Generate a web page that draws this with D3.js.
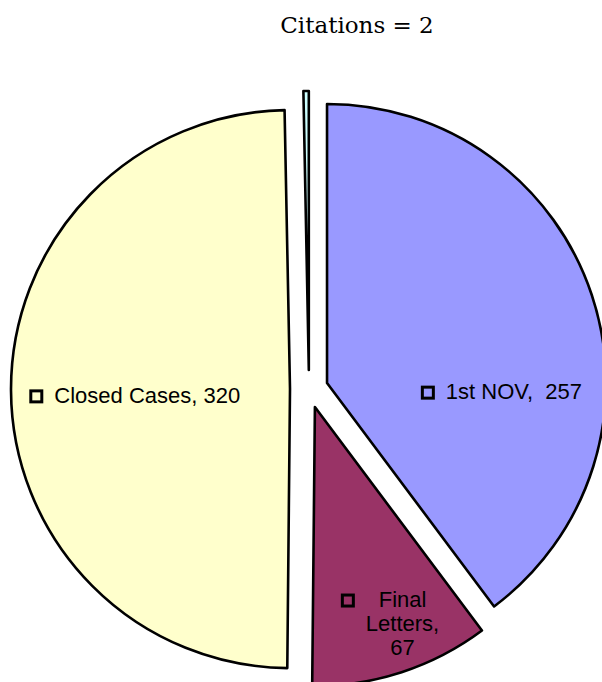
<!DOCTYPE html>
<html>
<head>
<meta charset="utf-8">
<script src="https://cdn.jsdelivr.net/npm/d3@7"></script>
<style>
	body { margin: 0; background: #fff; }
	svg { display: block; }
</style>
</head>
<body>
<div id="chart"></div>
<script>
// slices, clockwise from 12 o'clock
const categories = ["1st NOV", "Final Letters", "Closed Cases", "Citations"]
const values = [257, 67, 320, 2]
const labelLines = [["1st NOV,  257"], ["Final", "Letters,", "67"], ["Closed Cases, 320"], []]
const colors = ["#9999ff", "#993366", "#ffffcc", "#ccffff"]
const title = "Citations = 2"

// label placement, polar from each slice's tip: angle in degrees, distance as share of radius
const labelAngle = [93, 160.9, 267.5, 0]
const labelDist = [0.626, 0.823, 0.557, 0]

const width = 602, height = 682
const cx = 309, cy = 389
const radius = 279
const explode = 19

const svg = d3.select("#chart")
	.append("svg")
	.attr("width", width)
	.attr("height", height)

svg.append("text")
	.attr("x", 357)
	.attr("y", 33)
	.attr("text-anchor", "middle")
	.style("font-family", "'DejaVu Serif', serif")
	.style("font-size", "23px")
	.style("fill", "#000")
	.text(title)

const data = categories.map((c, i) => ({category: c, value: values[i], i: i}))

const pie = d3.pie()
	.sort(null)
	.value(d => d.value)

const arc = d3.arc()
	.innerRadius(0)
	.outerRadius(radius)

const arcs = pie(data)

const g = svg.append("g")
	.attr("transform", `translate(${cx},${cy})`)

const slices = g.selectAll("g.slice")
	.data(arcs)
	.enter()
	.append("g")
		.attr("class", "slice")
		.attr("transform", d => {
			const [x, y] = d3.pointRadial((d.startAngle + d.endAngle) / 2, explode)
			return `translate(${x},${y})`
		})

slices.append("path")
	.attr("d", arc)
	.style("fill", d => colors[d.data.i])
	.style("stroke", "#000")
	.style("stroke-width", 2.6)
	.style("stroke-linejoin", "round")

// labels: legend key square + text block, centred on the label point
const fontSize = 22
const lineH = 24
const keySize = 11
const gap = 11

slices.each(function(d) {
	const i = d.data.i
	const lines = labelLines[i]
	if (!lines.length) return
	const [lx, ly] = d3.pointRadial(labelAngle[i] * Math.PI / 180, labelDist[i] * radius)
	const lab = d3.select(this).append("g")

	const txt = lab.append("text")
		.attr("text-anchor", "middle")
		.attr("xml:space", "preserve")
		.style("white-space", "pre")
		.style("font-family", "'Liberation Sans', Arial, sans-serif")
		.style("font-size", fontSize + "px")
		.style("fill", "#000")

	lines.forEach((t, k) => {
		txt.append("tspan")
			.attr("x", 0)
			.attr("y", k * lineH)
			.text(t)
	})

	const bb = txt.node().getBBox()
	const blockW = keySize + 3 + gap + bb.width
	const left = -blockW / 2
	txt.attr("transform", `translate(${left + keySize + 3 + gap + bb.width / 2},0)`)

	lab.append("rect")
		.attr("x", left + 1.5)
		.attr("y", -keySize - 1)
		.attr("width", keySize)
		.attr("height", keySize)
		.style("fill", "none")
		.style("stroke", "#000")
		.style("stroke-width", 3)

	const blockH = (lines.length - 1) * lineH
	lab.attr("transform", `translate(${lx},${ly - blockH / 2 + 7})`)
})
</script>
</body>
</html>
